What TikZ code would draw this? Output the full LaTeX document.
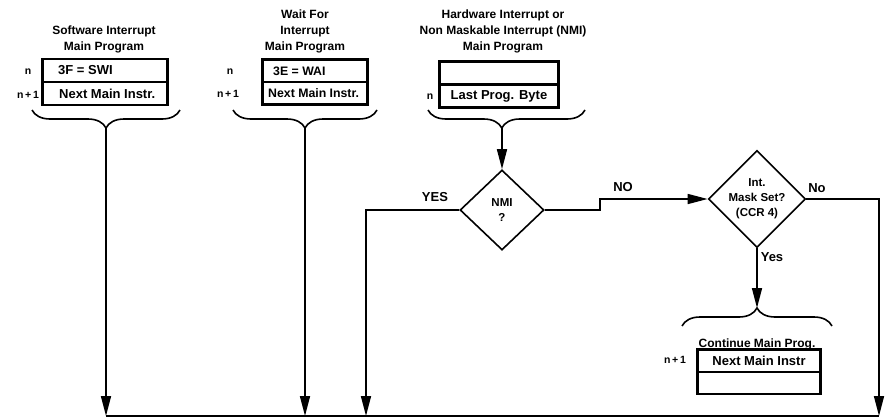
\documentclass[tikz,border=0pt]{standalone}
\usepackage{fontspec}
\setmainfont{Liberation Sans}
\usetikzlibrary{shapes.geometric,arrows.meta,decorations.pathreplacing}
\begin{document}
\begin{tikzpicture}[x=1pt,y=-1pt,
  font=\bfseries\fontsize{12}{16}\selectfont,
  ln/.style={line width=1.6pt},
  arr/.style={ln,-{Triangle[length=20pt,width=10pt]}},
  cellC/.style={draw,line width=1.3pt,minimum height=22pt,inner sep=0pt,font=\bfseries\fontsize{13}{15}\selectfont},
  ctext/.style={anchor=west,inner sep=0pt,font=\bfseries\fontsize{13}{15}\selectfont},
  outer/.style={line width=2pt},
  title/.style={align=center},
  idx/.style={font=\bfseries\fontsize{10.5}{12}\selectfont},
  brc/.style={ln,decorate,decoration={brace,amplitude=18pt,aspect=#1}},
  brc/.default=0.5,
  dia/.style={draw,diamond,line width=1.6pt,inner sep=0pt,align=center,font=\bfseries\fontsize{11.5}{15}\selectfont},
  lbl/.style={font=\bfseries\fontsize{13}{15}\selectfont}
]
\useasboundingbox (0,0) rectangle (886,418);

% ---------- Software interrupt ----------
\node[title] (swiT) at (104,39) {Software Interrupt\\Main Program};
\node[cellC,minimum width=124pt] (swiA) at (105,70.5) {};
\node[cellC,minimum width=124pt] (swiB) at (105,93.5) {};
\node[ctext] (swiAt) at (58,70.5) {3F = SWI};
\node[ctext] (swiBt) at (59,93.5) {Next Main Instr.};
\draw[outer] (swiA.north west) rectangle (swiB.south east);
\node[idx] (swiN) at (28,72) {n};
\node[idx] (swiN1) at (28,95) {n\,+\,1};
\draw[brc] (180,110) -- (32,110);
\coordinate (swiTip) at (106,128);
\coordinate (swiEnd) at (106,416);

% ---------- Wait for interrupt ----------
\node[title] (waiT) at (305,31) {Wait For\\Interrupt\\Main Program};
\node[cellC,minimum width=104pt] (waiA) at (315,71) {};
\node[cellC,minimum width=104pt] (waiB) at (315,93) {};
\node[ctext,font=\bfseries\fontsize{12.3}{15}\selectfont] (waiAt) at (273,71) {3E = WAI};
\node[ctext,font=\bfseries\fontsize{12.3}{15}\selectfont] (waiBt) at (268,93) {Next Main Instr.};
\draw[outer] (waiA.north west) rectangle (waiB.south east);
\node[idx] (waiN) at (230,72) {n};
\node[idx] (waiN1) at (228,94) {n\,+\,1};
\draw[brc] (377,110) -- (233,110);
\coordinate (waiTip) at (305,128);
\coordinate (waiEnd) at (305,416);

% ---------- Hardware interrupt ----------
\node[title] (hwT) at (503,31) {Hardware Interrupt or\\Non Maskable Interrupt (NMI)\\Main Program};
\node[cellC,minimum width=118pt] (hwA) at (499,73) {};
\node[cellC,minimum width=118pt] (hwB) at (499,96) {Last Prog. Byte};
\draw[outer] (hwA.north west) rectangle (hwB.south east);
\node[idx] (hwN) at (430,97) {n};
\draw[brc=0.53] (585,110) -- (428,110);
\coordinate (hwTip) at (502,128);

% ---------- NMI decision ----------
\node[dia,minimum width=84pt,minimum height=80pt] (nmi) at (502,210) {NMI\\?};
\draw[arr] (hwTip) -- (nmi.north);

\coordinate (yesCorner) at (366,210);
\coordinate (yesEnd) at (366,416);
\draw[arr] (nmi.west) -- (yesCorner) -- (yesEnd);
\node[lbl] (yesL) at (435,197) {YES};

% ---------- Interrupt mask decision ----------
\node[dia,minimum width=90pt,minimum height=92pt] (mask) at (757,199) {Int.\\Mask Set?\\(CCR 4)};
\coordinate (noA) at (600,210);
\coordinate (noB) at (600,199);
\draw[arr] (nmi.east) -- (noA) -- (noB) -- (mask.west);
\node[lbl] (noL) at (623,187) {NO};

\coordinate (rCorner) at (879,199);
\coordinate (rEnd) at (879,416);
\draw[arr] (mask.east) -- (rCorner) -- (rEnd);
\node[lbl] (noL2) at (817,188) {No};

% ---------- Continue main program ----------
\draw[brc] (682,326) -- (832,326);
\coordinate (contTip) at (757,308);
\draw[arr] (mask.south) -- (contTip);
\node[lbl] (yesL2) at (772,257) {Yes};
\node[title] (contT) at (757,344) {Continue Main Prog.};
\node[cellC,minimum width=122pt] (contA) at (759,361) {Next Main Instr};
\node[cellC,minimum width=122pt] (contB) at (759,382.5) {};
\draw[outer] (contA.north west) rectangle (contB.south east);
\node[idx] (contN) at (675,360) {n\,+\,1};

% ---------- arrows to bottom line ----------
\draw[arr] (swiTip) -- (swiEnd);
\draw[arr] (waiTip) -- (waiEnd);
\draw[ln] (swiEnd) -- (rEnd);
\end{tikzpicture}
\end{document}
